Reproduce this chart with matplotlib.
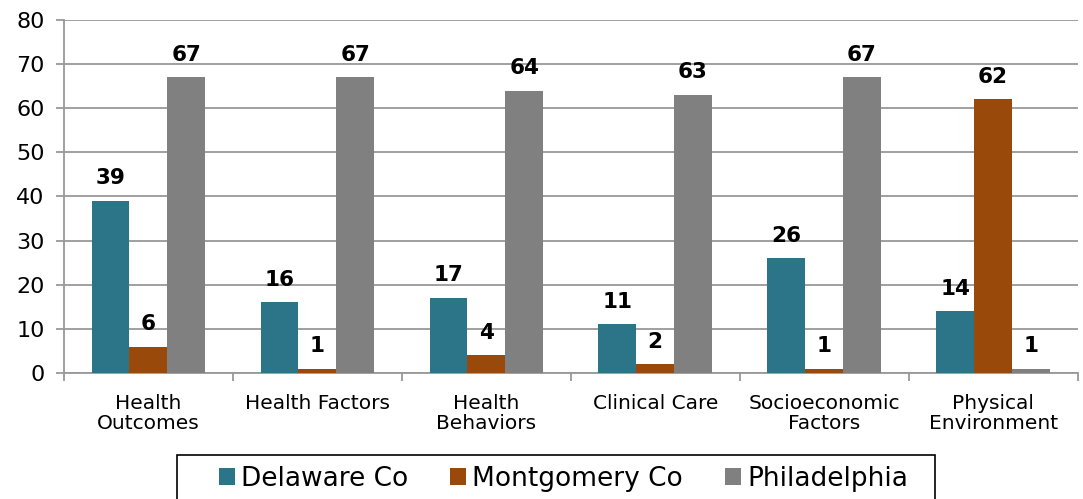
import numpy as np
import matplotlib.pyplot as plt
from matplotlib.patches import Rectangle

#chart data
categories = ['Health\nOutcomes', 'Health Factors', 'Health\nBehaviors',
              'Clinical Care', 'Socioeconomic\nFactors', 'Physical\nEnvironment']
series_names = ['Delaware Co', 'Montgomery Co', 'Philadelphia']
delaware = [39, 16, 17, 11, 26, 14]
montgomery = [6, 1, 4, 2, 1, 62]
philadelphia = [67, 67, 64, 63, 67, 1]
colors = ['#2c7589', '#994a0a', '#808080']

plt.rcParams['font.family'] = ['DejaVu Sans']

fig = plt.figure(figsize=(10.83, 4.99), dpi=100)
ax = fig.add_axes([0.059, 0.2525, 0.936, 0.7075])

x = np.arange(len(categories))
width = 0.224
for i, (vals, name) in enumerate(zip([delaware, montgomery, philadelphia], series_names)):
    pos = x + (i - 1) * width
    bars = ax.bar(pos, vals, width, color=colors[i], label=name, zorder=3)
    for b, v in zip(bars, vals):
        ax.annotate(str(v), (b.get_x() + b.get_width() / 2, v), xytext=(0, 9),
                    textcoords='offset points', ha='center', va='bottom',
                    fontsize=15.5, fontweight='bold', color='black')

ax.set_xlim(-0.5, len(categories) - 0.5)
ax.set_ylim(0, 80)
ax.set_yticks(range(0, 81, 10))
ax.yaxis.grid(True, color='#999999', linewidth=1.3, zorder=0)
for s in ['top', 'right']:
    ax.spines[s].set_visible(False)
for s in ['left', 'bottom']:
    ax.spines[s].set_color('#999999')
    ax.spines[s].set_linewidth(1.3)

#category labels between boundary ticks
ax.set_xticks(np.arange(-0.5, len(categories), 1))
ax.set_xticklabels([])
ax.set_xticks(x, minor=True)
ax.set_xticklabels(categories, minor=True, fontsize=14.5, linespacing=1.05)
ax.tick_params(axis='x', which='minor', length=0, pad=15)
ax.tick_params(axis='x', which='major', length=6, color='#999999', width=1.3)
ax.tick_params(axis='y', labelsize=16, length=6, color='#999999', width=1.3, pad=8)

#legend with its own frame (cut off at the bottom like the reference)
fig.patches.append(Rectangle((177 / 1083, -0.05), (935 - 177) / 1083, 0.05 + 44 / 499,
                             transform=fig.transFigure, fill=False,
                             edgecolor='black', linewidth=1.2))
handles, labels = ax.get_legend_handles_labels()
fig.legend(handles, labels, loc='center left', bbox_to_anchor=(219 / 1083, 1 - 479 / 499),
           ncol=3, fontsize=19, frameon=False, handlelength=0.6, handleheight=0.6,
           handletextpad=0.23, columnspacing=1.6, borderpad=0, borderaxespad=0)

fig.savefig('out.png', dpi=100)
